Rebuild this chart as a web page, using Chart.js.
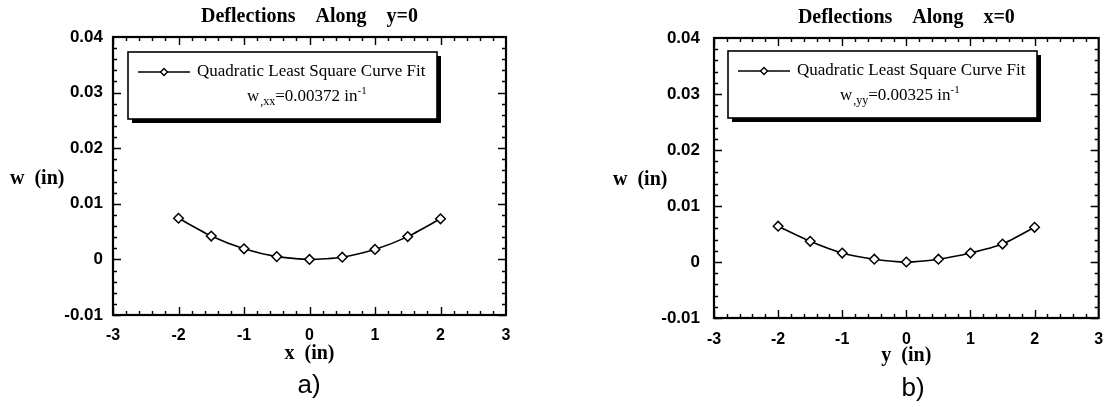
<!DOCTYPE html>
<html><head><meta charset="utf-8">
<script src="https://cdn.jsdelivr.net/npm/chart.js@4/dist/chart.umd.min.js"></script>
<style>
html,body{margin:0;padding:0;background:#fff;width:1105px;height:407px;overflow:hidden}
.c{position:absolute;top:0;height:407px}
#wa{left:0;width:560px}
#wb{left:560px;width:545px}
</style></head><body>
<div class="c" id="wa"><canvas id="ca"></canvas></div>
<div class="c" id="wb"><canvas id="cb"></canvas></div>
<script>
// ---- data ----
const positions = [-2, -1.5, -1, -0.5, 0, 0.5, 1, 1.5, 2];
const deflectionAlongY0 = [0.0074, 0.0042, 0.0019, 0.0005, 0.0000, 0.0004, 0.0018, 0.0041, 0.0073];
const deflectionAlongX0 = [0.0064, 0.0037, 0.0016, 0.0005, 0.0000, 0.0005, 0.0016, 0.0032, 0.0062];
const xTickValues = [-3, -2, -1, 0, 1, 2, 3];
const xTickLabels = ['-3', '-2', '-1', '0', '1', '2', '3'];
const wTickValues = [-0.01, 0, 0.01, 0.02, 0.03, 0.04];
const wTickLabels = ['-0.01', '0', '0.01', '0.02', '0.03', '0.04'];
const chartTitles = ['Deflections    Along    y=0', 'Deflections    Along    x=0'];
const xAxisTitles = ['x  (in)', 'y  (in)'];
const yAxisTitle = 'w  (in)';
const legendLabel = 'Quadratic Least Square Curve Fit';
const curvatureSubscripts = [',xx', ',yy'];
const curvatureTexts = ['=0.00372 in', '=0.00325 in'];
const curvatureExponent = '-1';
const captions = ['a)', 'b)'];

const SERIF = "'Liberation Serif', 'Times New Roman', serif";
const SANS = "'Liberation Sans', Arial, sans-serif";
const MINOR_DIV = 5;

const framePlugin = {
  id: 'frame',
  afterDatasetsDraw(chart, args, o) {
    const {ctx, chartArea: a, scales: {x, y}} = chart;
    ctx.save();
    ctx.strokeStyle = '#000';
    ctx.lineCap = 'butt';
    // ticks (inward, all four sides)
    ctx.lineWidth = 1.4;
    ctx.beginPath();
    for (let i = 0; i < xTickValues.length - 1; i++) {
      const v0 = xTickValues[i], v1 = xTickValues[i + 1];
      for (let k = 0; k < MINOR_DIV; k++) {
        const px = Math.round(x.getPixelForValue(v0 + (v1 - v0) * k / MINOR_DIV)) + 0.5;
        const len = k === 0 ? 8 : 4;
        ctx.moveTo(px, a.bottom); ctx.lineTo(px, a.bottom - len);
        ctx.moveTo(px, a.top); ctx.lineTo(px, a.top + len);
      }
    }
    for (let i = 0; i < wTickValues.length - 1; i++) {
      const v0 = wTickValues[i], v1 = wTickValues[i + 1];
      for (let k = 0; k < MINOR_DIV; k++) {
        const py = Math.round(y.getPixelForValue(v0 + (v1 - v0) * k / MINOR_DIV)) + 0.5;
        const len = k === 0 ? 8 : 4;
        ctx.moveTo(a.left, py); ctx.lineTo(a.left + len, py);
        ctx.moveTo(a.right, py); ctx.lineTo(a.right - len, py);
      }
    }
    ctx.stroke();
    // frame
    ctx.lineWidth = 2.2;
    ctx.strokeRect(a.left, a.top, a.right - a.left, a.bottom - a.top);

    // legend box with shadow
    const L = a.left + o.legendDx, T = a.top + o.legendDy, W = o.legendW, H = o.legendH;
    ctx.fillStyle = '#000';
    ctx.fillRect(L + 4, T + 4, W, H);
    ctx.fillStyle = '#fff';
    ctx.fillRect(L, T, W, H);
    ctx.lineWidth = 1.6;
    ctx.strokeRect(L, T, W, H);
    const sy = T + 20;
    ctx.lineWidth = 1.4;
    ctx.beginPath(); ctx.moveTo(L + 10, sy); ctx.lineTo(L + 62, sy); ctx.stroke();
    ctx.fillStyle = '#fff';
    ctx.strokeStyle = '#000';
    Chart.helpers.drawPoint(ctx, {pointStyle: 'rectRot', radius: 3.5, borderWidth: 1.4, rotation: 0}, L + 36, sy);
    ctx.fillStyle = '#000';
    ctx.textBaseline = 'middle';
    ctx.textAlign = 'left';
    ctx.font = '17px ' + SERIF;
    ctx.fillText(legendLabel, L + 69, sy);
    // curvature line
    const y2 = T + 45;
    let cx = L + o.line2Dx;
    ctx.font = '17px ' + SERIF;
    ctx.fillText('w', cx, y2); cx += ctx.measureText('w').width + 1;
    ctx.font = '12px ' + SERIF;
    ctx.fillText(curvatureSubscripts[o.idx], cx, y2 + 5); cx += ctx.measureText(curvatureSubscripts[o.idx]).width;
    ctx.font = '17px ' + SERIF;
    ctx.fillText(curvatureTexts[o.idx], cx, y2); cx += ctx.measureText(curvatureTexts[o.idx]).width;
    ctx.font = '11px ' + SERIF;
    ctx.fillText(curvatureExponent, cx, y2 - 6);

    // horizontal y-axis title
    ctx.font = 'bold 20px ' + SERIF;
    ctx.fillText(yAxisTitle, o.yTitleX, o.yTitleY);
    // caption
    ctx.font = '26px ' + SANS;
    ctx.textAlign = 'center';
    ctx.fillText(captions[o.idx], o.capX, o.capY);
    ctx.restore();
  }
};

function makeChart(canvasId, idx, values, lay) {
  return new Chart(document.getElementById(canvasId), {
    type: 'line',
    data: {
      datasets: [{
        data: positions.map((p, i) => ({x: p, y: values[i]})),
        borderColor: '#000',
        borderWidth: 1.6,
        tension: 0.2,
        pointStyle: 'rectRot',
        pointRadius: 4.8,
        pointBackgroundColor: '#fff',
        pointBorderColor: '#000',
        pointBorderWidth: 1.5,
        fill: false,
        clip: false
      }]
    },
    options: {
      responsive: true,
      maintainAspectRatio: false,
      animation: false,
      devicePixelRatio: 1,
      layout: {padding: {left: 0, right: lay.padRight, top: 0, bottom: 0}},
      plugins: {
        legend: {display: false},
        tooltip: {enabled: false},
        title: {
          display: true,
          text: chartTitles[idx],
          fullSize: false,
          color: '#000',
          font: {family: SERIF, size: 20, weight: 'bold'},
          padding: {top: lay.titleTop, bottom: lay.titleBottom}
        },
        frame: {
          idx: idx,
          legendDx: lay.legendDx, legendDy: lay.legendDy, legendW: 309, legendH: 67,
          line2Dx: lay.line2Dx,
          yTitleX: lay.yTitleX, yTitleY: lay.yTitleY,
          capX: lay.capX, capY: lay.capY
        }
      },
      scales: {
        x: {
          type: 'linear',
          min: -3, max: 3,
          afterBuildTicks: s => { s.ticks = xTickValues.map(v => ({value: v})); },
          afterFit: s => { s.height = lay.xHeight; s.paddingLeft = 0; s.paddingRight = 0; },
          grid: {display: false, drawTicks: false},
          border: {display: false},
          ticks: {
            color: '#000', padding: lay.xPad, maxRotation: 0, autoSkip: false,
            font: {family: SANS, size: 16, weight: 'bold'},
            callback: (v, i) => xTickLabels[i]
          },
          title: {
            display: true, text: xAxisTitles[idx], color: '#000',
            font: {family: SERIF, size: 20, weight: 'bold'},
            padding: {top: 0, bottom: lay.xTitleBottom}
          }
        },
        y: {
          type: 'linear',
          min: -0.01, max: 0.04,
          afterBuildTicks: s => { s.ticks = wTickValues.map(v => ({value: v})); },
          afterFit: s => { s.width = lay.yWidth; s.paddingTop = 0; s.paddingBottom = 0; },
          grid: {display: false, drawTicks: false},
          border: {display: false},
          ticks: {
            color: '#000', padding: lay.yPad, autoSkip: false,
            font: {family: SANS, size: 17, weight: 'bold'},
            callback: (v, i) => wTickLabels[i]
          }
        }
      }
    },
    plugins: [framePlugin]
  });
}

makeChart('ca', 0, deflectionAlongY0, {
  padRight: 54, titleTop: 5, titleBottom: 8, xHeight: 92, xPad: 11, xTitleBottom: 41,
  yWidth: 113, yPad: 10, legendDx: 15, legendDy: 15, line2Dx: 119,
  yTitleX: 10, yTitleY: 179, capX: 309, capY: 386
});
makeChart('cb', 1, deflectionAlongX0, {
  padRight: 5, titleTop: 6, titleBottom: 8, xHeight: 89, xPad: 12, xTitleBottom: 39,
  yWidth: 154, yPad: 14, legendDx: 14, legendDy: 13, line2Dx: 112,
  yTitleX: 53, yTitleY: 180, capX: 353, capY: 389
});
</script>
</body></html>
